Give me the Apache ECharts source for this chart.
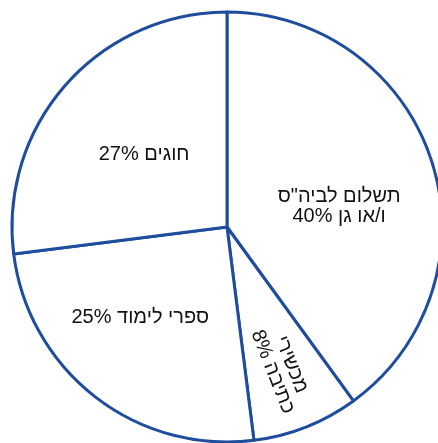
<!DOCTYPE html>
<html>
<head>
<meta charset="utf-8">
<script src="https://cdn.jsdelivr.net/npm/echarts@6/dist/echarts.min.js"></script>
<style>
  html, body { margin: 0; padding: 0; background: #fff; }
  #chart { width: 438px; height: 443px; }
</style>
</head>
<body>
<div id="chart" dir="rtl"></div>
<script>
// slices, clockwise from 12 o'clock
const categories = ['תשלום לביה"ס\nו/או גן', 'מכשירי\nכתיבה', 'ספרי לימוד', 'חוגים'];
const values = [40, 8, 25, 27];
// small nudges of the inside labels, in px (the rotated one is in its own frame)
const labelShift = [[7, 14], [41, 1], [-19, 3], [0, 1]];

const blue = '#1f4d9e';

let myChart = echarts.init(document.getElementById('chart'));
myChart.setOption({
    backgroundColor: '#fff',
    animation: false,
    series: [{
        type: 'pie',
        center: [227, 227],
        radius: 215,
        startAngle: 90,
        clockwise: true,
        avoidLabelOverlap: false,
        silent: true,
        data: categories.map((name, i) => ({
            name: name,
            value: values[i],
            label: i === 1 ? { rotate: 'radial' } : {}
        })),
        itemStyle: {
            color: '#fff',
            borderColor: blue,
            borderWidth: 3
        },
        label: {
            position: 'inside',
            formatter: '{b} {c}%',
            color: '#111',
            fontFamily: 'Liberation Sans, Arial, sans-serif',
            fontSize: 20,
            lineHeight: 20
        },
        labelLine: { show: false },
        labelLayout: (params) => ({
            dx: labelShift[params.dataIndex][0],
            dy: labelShift[params.dataIndex][1]
        })
    }]
});
</script>
</body>
</html>
